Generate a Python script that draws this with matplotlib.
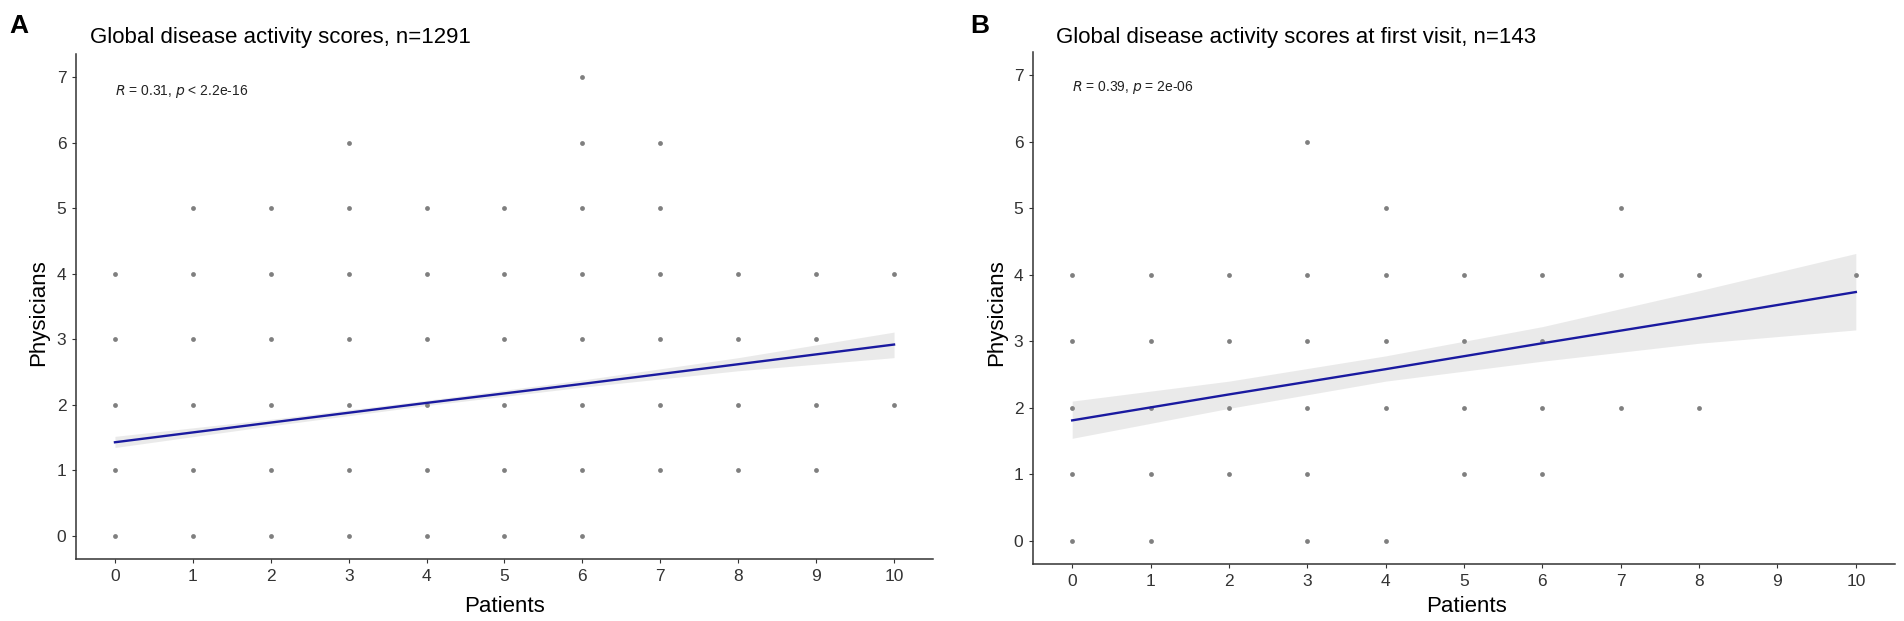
import matplotlib
matplotlib.use('Agg')
import matplotlib.pyplot as plt

plt.rcParams['font.family'] = ['Liberation Sans', 'DejaVu Sans']

W, H = 1904, 621

# Panel A: all visits, n=1291 (patient score -> physician scores seen)
a_points = {
    0: [0, 1, 2, 3, 4],
    1: [0, 1, 2, 3, 4, 5],
    2: [0, 1, 2, 3, 4, 5],
    3: [0, 1, 2, 3, 4, 5, 6],
    4: [0, 1, 2, 3, 4, 5],
    5: [0, 1, 2, 3, 4, 5],
    6: [0, 1, 2, 3, 4, 5, 6, 7],
    7: [1, 2, 3, 4, 5, 6],
    8: [1, 2, 3, 4],
    9: [1, 2, 3, 4],
    10: [2, 4],
}
a_fit_x = [0, 2, 4, 6, 8, 10]
a_fit = [1.43, 1.73, 2.03, 2.32, 2.62, 2.92]
a_lo = [1.35, 1.68, 1.99, 2.27, 2.52, 2.72]
a_hi = [1.52, 1.78, 2.07, 2.38, 2.72, 3.11]

# Panel B: first visit, n=143
b_points = {
    0: [0, 1, 2, 3, 4],
    1: [0, 1, 2, 3, 4],
    2: [1, 2, 3, 4],
    3: [0, 1, 2, 3, 4, 6],
    4: [0, 2, 3, 4, 5],
    5: [1, 2, 3, 4],
    6: [1, 2, 3, 4],
    7: [2, 4, 5],
    8: [2, 4],
    10: [4],
}
b_fit_x = [0, 2, 4, 6, 8, 10]
b_fit = [1.81, 2.20, 2.58, 2.97, 3.35, 3.74]
b_lo = [1.54, 1.99, 2.40, 2.70, 2.97, 3.17]
b_hi = [2.10, 2.40, 2.78, 3.22, 3.76, 4.32]

x_ticks = list(range(0, 11))
y_ticks = list(range(0, 8))


def fx(px):
    return px / W


def fy(py):
    return 1 - py / H


def draw_panel(ax, points, fit_x, fit, lo, hi):
    xs = [x for x, ys in points.items() for _ in ys]
    ys = [y for ys_ in points.values() for y in ys_]
    ax.scatter(xs, ys, s=12, color='#7f7f7f', linewidths=0, zorder=2)
    # semi-transparent band like ggplot's geom_smooth, points show through
    ax.fill_between(fit_x, lo, hi, color='#999999', alpha=0.2, linewidth=0, zorder=3)
    ax.plot(fit_x, fit, color='#1a1aa0', linewidth=1.7, zorder=4)
    ax.set_xlim(-0.5, 10.5)
    ax.set_ylim(-0.35, 7.35)
    ax.set_xticks(x_ticks)
    ax.set_yticks(y_ticks)
    for s in ['top', 'right']:
        ax.spines[s].set_visible(False)
    for s in ['left', 'bottom']:
        ax.spines[s].set_color('#333333')
        ax.spines[s].set_linewidth(1.1)
    ax.tick_params(length=3, width=0.8, color='#333333', labelcolor='#333333',
                   labelsize=12.5, pad=4)


fig = plt.figure(figsize=(W / 100, H / 100), dpi=100)

ax_a = fig.add_axes([fx(76), fy(559), fx(933) - fx(76), fy(54) - fy(559)])
draw_panel(ax_a, a_points, a_fit_x, a_fit, a_lo, a_hi)

ax_b = fig.add_axes([fx(1033), fy(564), fx(1895) - fx(1033), fy(52) - fy(564)])
draw_panel(ax_b, b_points, b_fit_x, b_fit, b_lo, b_hi)

# panel letters
fig.text(fx(9), fy(26), 'A', fontsize=19, fontweight='bold', ha='left', va='center')
fig.text(fx(970), fy(26), 'B', fontsize=19, fontweight='bold', ha='left', va='center')

# titles
fig.text(fx(90), fy(38), 'Global disease activity scores, n=1291',
         fontsize=16, ha='left', va='center')
fig.text(fx(1056), fy(38), 'Global disease activity scores at first visit, n=143',
         fontsize=16, ha='left', va='center')

# correlation annotations
fig.text(fx(115), fy(91), r'$\it{R}$ = 0.31, $\it{p}$ < 2.2e-16',
         fontsize=10, ha='left', va='center', color='#222222')
fig.text(fx(1072), fy(87), r'$\it{R}$ = 0.39, $\it{p}$ = 2e-06',
         fontsize=10, ha='left', va='center', color='#222222')

# axis labels
fig.text(fx(39), fy(313), 'Physicians', fontsize=16, rotation=90, ha='center', va='center')
fig.text(fx(997), fy(313), 'Physicians', fontsize=16, rotation=90, ha='center', va='center')
fig.text(fx(504), fy(606), 'Patients', fontsize=16, ha='center', va='center')
fig.text(fx(1466), fy(606), 'Patients', fontsize=16, ha='center', va='center')

fig.savefig('out.png', dpi=100)
